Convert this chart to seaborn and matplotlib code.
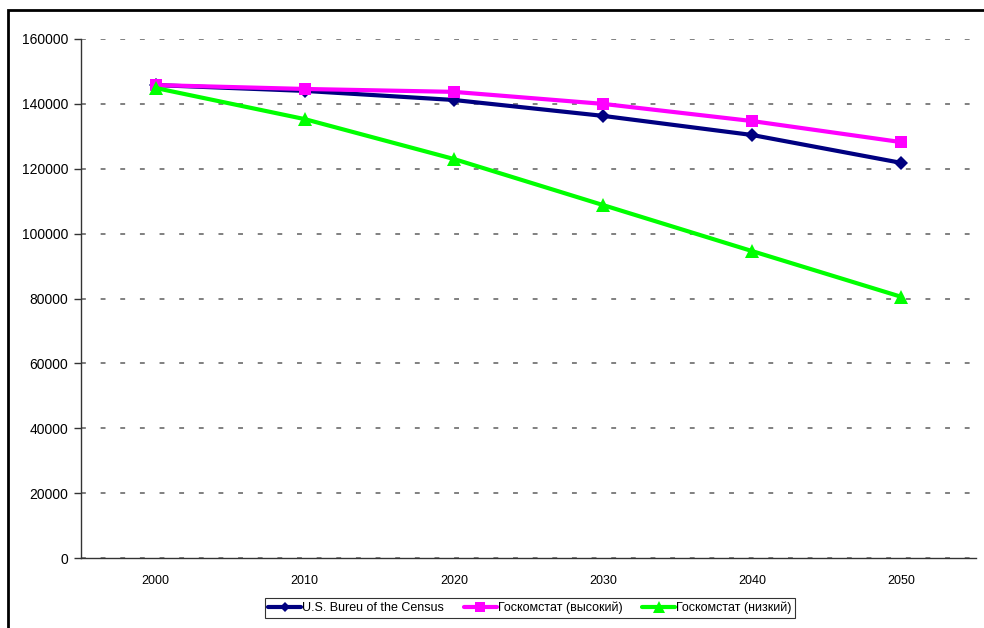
"""Прогноз численности населения России до 2050 года (три сценария)."""

import matplotlib
matplotlib.use('Agg')
import matplotlib.pyplot as plt
from matplotlib.patches import Rectangle
from matplotlib.ticker import FixedLocator, MultipleLocator
import pandas as pd
import seaborn as sns

# Данные
years = ['2000', '2010', '2020', '2030', '2040', '2050']
census = [145800, 144000, 141200, 136300, 130400, 121800]
gks_high = [145800, 144600, 143700, 140000, 134700, 128200]
gks_low = [144900, 135300, 123000, 108800, 94600, 80500]
series_names = ['U.S. Bureu of the Census', 'Госкомстат (высокий)', 'Госкомстат (низкий)']

sns.set_style('white')
plt.rcParams['font.family'] = ['Liberation Sans', 'DejaVu Sans']
plt.rcParams['text.color'] = 'black'
plt.rcParams['xtick.color'] = 'black'
plt.rcParams['ytick.color'] = 'black'

# Длинный формат для seaborn
df = pd.DataFrame({
    'pos': list(range(len(years))) * 3,
    'value': census + gks_high + gks_low,
    'series': [s for s in series_names for _ in years],
})

colors = {series_names[0]: '#000080', series_names[1]: '#FF00FF', series_names[2]: '#00FF00'}
markers = {series_names[0]: 'D', series_names[1]: 's', series_names[2]: '^'}
sizes = {series_names[0]: 7, series_names[1]: 9, series_names[2]: 10}

fig = plt.figure(figsize=(9.84, 6.28), dpi=100)
ax = fig.add_axes([81 / 984, 70 / 628, 895 / 984, 519 / 628])

for name in series_names:
    sub = df[df['series'] == name]
    sns.lineplot(data=sub, x='pos', y='value', ax=ax, color=colors[name],
                 marker=markers[name], markersize=sizes[name], markeredgewidth=0,
                 linewidth=3, label=name, legend=False)

ax.set_xlim(-0.5, len(years) - 0.5)
ax.set_ylim(0, 160000)
ax.yaxis.set_major_locator(MultipleLocator(20000))
ax.xaxis.set_major_locator(FixedLocator(range(len(years))))
ax.set_xticklabels(years)
ax.xaxis.set_minor_locator(FixedLocator([i - 0.5 for i in range(len(years) + 1)]))
ax.tick_params(axis='x', which='major', length=0, pad=12, labelsize=9)
ax.tick_params(axis='x', which='minor', length=4, width=1, direction='out', color='#333333')
ax.tick_params(axis='y', which='major', length=5, width=1, direction='out', pad=4,
               labelsize=10, color='#333333', left=True)
ax.set_xlabel('')
ax.set_ylabel('')

for side in ['top', 'right']:
    ax.spines[side].set_visible(False)
for side in ['left', 'bottom']:
    ax.spines[side].set_color('#333333')
    ax.spines[side].set_linewidth(1)

ax.yaxis.grid(True, color='#808080', linewidth=1.4, linestyle=(0, (2.5, 7.6)))
ax.set_axisbelow(True)

handles, labels = ax.get_legend_handles_labels()
leg = fig.legend(handles, labels, loc='center', bbox_to_anchor=(530 / 984, 1 - 608 / 628),
                 ncol=3, frameon=True, fancybox=False, fontsize=9, handlelength=2.6,
                 handletextpad=0.1, columnspacing=1.6, borderpad=0.3, markerscale=0.8)
leg.get_frame().set_edgecolor('black')
leg.get_frame().set_linewidth(0.8)

# Внешняя рамка диаграммы (выходит за правый и нижний край)
fig.add_artist(Rectangle((8 / 984, -0.1), 1.2, 1 - 10 / 628 + 0.1, transform=fig.transFigure,
                         fill=False, edgecolor='black', linewidth=2))

fig.savefig('out.png', dpi=100)
plt.close(fig)
